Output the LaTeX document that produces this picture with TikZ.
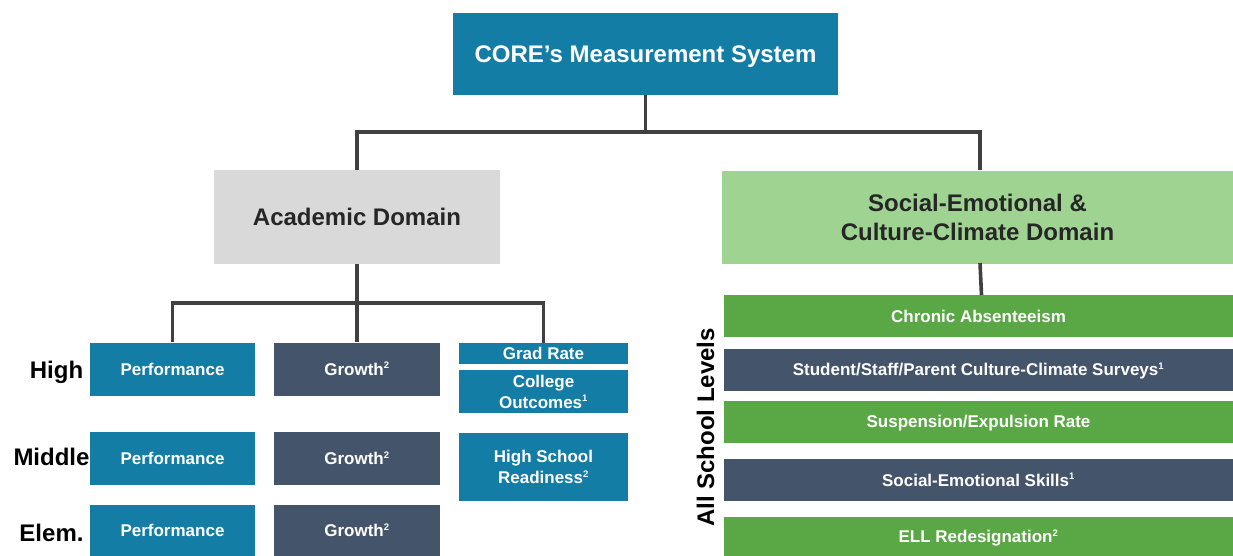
\documentclass[tikz,border=0pt]{standalone}
\usepackage{fontspec}
\setmainfont{Liberation Sans}
\definecolor{cteal}{HTML}{137DA5}
\definecolor{cslate}{HTML}{44546A}
\definecolor{cgreen}{HTML}{5AA845}
\definecolor{clgreen}{HTML}{9FD392}
\definecolor{cgray}{HTML}{D9D9D9}
\definecolor{cline}{HTML}{404040}
\definecolor{ctext}{HTML}{262626}
\tikzset{
  box/.style={rectangle, inner sep=0pt, align=center, text=white,
    font=\bfseries\fontsize{17}{21}\selectfont, text height=12.3pt, text depth=0pt},
  tealbox/.style={box, fill=cteal},
  slatebox/.style={box, fill=cslate},
  greenbox/.style={box, fill=cgreen},
  bigtxt/.style={font=\bfseries\fontsize{24}{29.5}\selectfont, align=center, text height=17.3pt, text depth=0pt},
  ml/.style={text height={}, text depth={}},
  lbl/.style={bigtxt, text=black, inner sep=0pt},
  conn/.style={draw=cline, line width=3.6pt},
  colA/.style={minimum width=165pt},
  colB/.style={minimum width=166pt},
  colC/.style={minimum width=169pt},
  rowbox/.style={minimum width=509pt},
}
\newcommand{\supr}[1]{\textsuperscript{\fontsize{9.5}{10}\selectfont #1}}
\begin{document}
\begin{tikzpicture}[x=1pt,y=-1pt]
\useasboundingbox (0,0) rectangle (1233,556);

% top
\node[box, fill=cteal, bigtxt, text=white, minimum width=385pt, minimum height=82pt] (top) at (645.5,54) {CORE’s Measurement System};

% domains
\node[box, fill=cgray, bigtxt, text=ctext, minimum width=286pt, minimum height=94pt] (acad) at (357,217) {Academic Domain};
\node[box, fill=clgreen, bigtxt, ml, text=ctext, minimum width=511pt, minimum height=93pt] (soc) at (977.5,217.5) {Social-Emotional \&\\Culture-Climate Domain};

% academic boxes
\node[tealbox, colA, minimum height=53pt] (perfH) at (172.5,369) {Performance};
\node[slatebox, colB, minimum height=53pt] (growH) at (357,369) {Growth\supr{2}};
\node[tealbox, colC, minimum height=21pt] (grad) at (543.5,353.5) {Grad Rate};
\node[tealbox, ml, colC, minimum height=43pt] (coll) at (543.5,391.5) {College\\Outcomes\supr{1}};

\node[tealbox, colA, minimum height=53pt] (perfM) at (172.5,458) {Performance};
\node[slatebox, colB, minimum height=53pt] (growM) at (357,458.5) {Growth\supr{2}};
\node[tealbox, ml, colC, minimum height=68pt] (hsr) at (543.5,467) {High School\\Readiness\supr{2}};

\node[tealbox, colA, minimum height=51pt] (perfE) at (172.5,530.5) {Performance};
\node[slatebox, colB, minimum height=51pt] (growE) at (357,530.5) {Growth\supr{2}};

% level labels
\node[lbl] (lHigh) at (56.5,370) {High};
\node[lbl] (lMid) at (51.5,457) {Middle};
\node[lbl] (lElem) at (51.5,533) {Elem.};

% social boxes
\node[greenbox, rowbox, minimum height=42pt] (chron) at (978.5,316) {Chronic Absenteeism};
\node[slatebox, rowbox, minimum height=42pt] (surv) at (978.5,369.5) {Student/Staff/Parent Culture-Climate Surveys\supr{1}};
\node[greenbox, rowbox, minimum height=42pt] (susp) at (978.5,421.5) {Suspension/Expulsion Rate};
\node[slatebox, rowbox, minimum height=42pt] (sel) at (978.5,480) {Social-Emotional Skills\supr{1}};
\node[greenbox, rowbox, minimum height=39pt] (ell) at (978.5,536.5) {ELL Redesignation\supr{2}};

\node[lbl, rotate=90] (all) at (705.5,427.5) {All School Levels};

% connectors
\coordinate (j1) at (645.5,132);
\coordinate (socin) at (980,170);
\coordinate (socout) at (980,263);
\coordinate (chin) at (981.5,295);
\coordinate (j2) at (357,303);
\draw[conn] (top.south) -- (j1);
\draw[conn] (acad.north) |- (j1) -| (socin);
\draw[conn] (acad.south) -- (j2);
\draw[conn] (perfH.north) |- (j2) -| (grad.north);
\draw[conn] (j2) -- (growH.north);
\draw[conn] (socout) -- (chin);
\end{tikzpicture}
\end{document}
